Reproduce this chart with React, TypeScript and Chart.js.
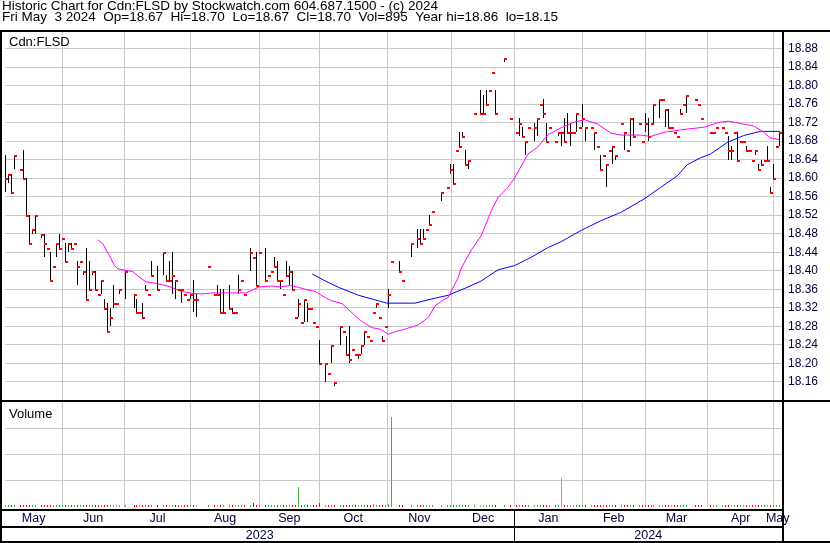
import React, { useEffect, useRef } from 'react';
import { Chart, registerables } from 'chart.js';

Chart.register(...registerables);

const FONT = '"Liberation Sans", Arial, sans-serif';

const titleLine1 = 'Historic Chart for Cdn:FLSD by Stockwatch.com 604.687.1500 - (c) 2024';
const titleLine2 = 'Fri May  3 2024  Op=18.67  Hi=18.70  Lo=18.67  Cl=18.70  Vol=895  Year hi=18.86  lo=18.15';
const symbolLabel = 'Cdn:FLSD';
const volumeLabel = 'Volume';

const monthLabels = ['May', 'Jun', 'Jul', 'Aug', 'Sep', 'Oct', 'Nov', 'Dec', 'Jan', 'Feb', 'Mar', 'Apr', 'May'];
// bar position (in trading-day units) where each new month begins
const monthStarts = [19, 39.67, 62, 85, 105, 127.67, 149.33, 170.33, 193, 214, 235, 257];
const yearLabels = ['2023', '2024'];
const yearBreakMonth = 7;

const priceTicks = [18.16, 18.2, 18.24, 18.28, 18.32, 18.36, 18.4, 18.44, 18.48, 18.52, 18.56, 18.6, 18.64, 18.68, 18.72, 18.76, 18.8, 18.84, 18.88];
const volumeTicks = [300, 600, 900];

const closes = [
  18.60, 18.61, 18.57, 18.65, null, 18.62, 18.60, 18.52, 18.46, 18.49,
  18.52, null, 18.48, 18.46, 18.45, 18.38, 18.41, 18.46, 18.45, 18.47,
  18.42, 18.46, 18.45, 18.46, 18.41, 18.42, 18.40, 18.34, 18.36, 18.40,
  18.36, 18.35, 18.38, 18.32, 18.27, 18.30, 18.33, 18.33, 18.36, null,
  18.40, null, null, 18.35, 18.31, 18.31, 18.30, 18.36, 18.35, 18.39,
  null, 18.36, null, 18.44, 18.38, 18.38, 18.39, 18.38, 18.36, 18.36,
  18.35, 18.34, 18.35, 18.34, 18.34, null, null, null, 18.41, null,
  18.35, 18.35, 18.31, 18.31, null, 18.32, 18.31, 18.31, 18.36, 18.38,
  18.35, null, 18.44, 18.43, 18.37, 18.44, null, 18.38, 18.39, 18.40,
  18.41, 18.38, 18.38, 18.35, 18.39, 18.40, 18.36, 18.30, 18.33, 18.29,
  18.34, 18.32, 18.32, 18.29, 18.28, 18.20, null, 18.20, 18.18, 18.24,
  18.16, null, 18.28, 18.27, 18.22, 18.21, 18.23, 18.22, 18.22, 18.24,
  18.27, 18.26, 18.25, 18.31, 18.33, 18.30, 18.25, 18.28, 18.35, 18.42,
  null, null, 18.40, 18.38, null, null, 18.46, null, 18.47, 18.46,
  18.47, 18.49, 18.50, 18.53, null, null, 18.57, null, 18.58, 18.62,
  18.59, 18.66, 18.67, 18.69, 18.63, 18.64, null, 18.74, null, 18.74,
  18.74, 18.76, 18.79, 18.83, 18.74, null, null, 18.86, null, 18.73,
  null, 18.70, 18.72, 18.69, 18.68, 18.71, null, 18.71, 18.73, 18.76,
  18.74, 18.68, 18.71, null, 18.68, 18.70, 18.70, 18.68, 18.70, 18.70,
  18.70, 18.74, 18.71, 18.73, 18.71, null, 18.71, 18.70, 18.67, 18.62,
  18.65, 18.63, 18.66, 18.67, 18.65, null, 18.72, 18.70, 18.66, 18.73,
  18.69, null, 18.72, 18.68, 18.72, 18.69, 18.72, 18.76, null, 18.77,
  18.77, 18.75, 18.71, 18.71, 18.70, 18.69, 18.74, 18.76, 18.78, null,
  null, 18.77, 18.76, 18.73, null, null, 18.70, 18.70, 18.71, null,
  18.71, 18.70, 18.66, 18.66, 18.70, 18.64, 18.68, 18.68, 18.66, 18.66,
  18.64, 18.66, 18.62, 18.63, 18.64, 18.64, 18.57, 18.60, 18.67, 18.70,
];

const highs = [
  18.65, 18.61, 18.61, 18.65, null, null, 18.66, 18.60, 18.52, 18.49,
  18.52, null, 18.48, 18.48, null, 18.44, null, 18.46, 18.48, null,
  18.46, 18.46, 18.46, null, 18.42, null, 18.40, 18.45, 18.42, 18.40,
  18.40, null, 18.38, 18.34, 18.33, 18.32, 18.37, null, 18.36, null,
  18.40, null, null, 18.35, 18.34, null, 18.33, 18.37, null, 18.42,
  null, 18.41, null, 18.44, 18.39, 18.42, 18.44, 18.38, null, 18.36,
  null, null, 18.35, 18.38, 18.35, null, null, null, null, null,
  null, 18.37, 18.36, 18.36, null, 18.37, 18.32, null, 18.39, null,
  null, null, 18.45, null, 18.44, null, null, 18.45, null, null,
  18.43, 18.42, 18.38, null, 18.42, 18.41, 18.40, null, 18.34, null,
  18.34, 18.33, null, null, null, 18.25, null, 18.20, null, 18.24,
  18.16, null, 18.28, null, 18.26, 18.28, null, null, 18.22, 18.24,
  18.27, null, null, null, 18.33, null, 18.26, null, 18.36, null,
  null, null, 18.42, null, null, null, 18.46, null, 18.49, 18.49,
  18.49, null, 18.52, null, null, null, 18.57, null, null, 18.63,
  18.63, null, 18.70, 18.70, 18.66, 18.64, null, null, null, 18.79,
  18.78, 18.79, null, null, 18.79, null, null, 18.86, null, null,
  null, null, 18.73, 18.71, 18.68, null, null, 18.72, 18.73, null,
  18.77, 18.72, null, null, null, 18.70, 18.70, 18.73, 18.74, 18.72,
  null, 18.74, null, 18.76, 18.71, null, null, 18.70, null, 18.65,
  null, 18.63, null, 18.67, 18.65, null, null, 18.70, null, 18.73,
  18.73, null, null, null, 18.74, 18.73, null, 18.76, null, 18.77,
  null, 18.75, 18.75, null, null, null, 18.75, null, 18.78, null,
  null, null, null, null, null, null, null, null, null, null,
  null, null, 18.69, 18.67, null, 18.70, null, null, 18.67, null,
  null, 18.66, 18.63, 18.64, null, 18.67, 18.58, 18.63, null, 18.70,
];

const lows = [
  18.57, 18.59, 18.57, 18.62, null, null, 18.60, 18.52, 18.46, 18.48,
  18.48, null, 18.47, 18.43, null, 18.38, null, 18.43, 18.45, null,
  18.42, 18.44, 18.45, null, 18.37, null, 18.39, 18.34, 18.36, 18.39,
  18.36, null, 18.35, 18.32, 18.27, 18.28, 18.32, null, 18.35, null,
  18.34, null, null, 18.32, 18.31, null, 18.30, 18.36, null, 18.39,
  null, 18.36, null, 18.39, 18.38, 18.38, 18.35, 18.34, null, 18.33,
  null, null, 18.34, 18.31, 18.30, null, null, null, null, null,
  null, 18.35, 18.31, 18.31, null, 18.32, 18.31, null, 18.35, null,
  null, null, 18.40, null, 18.37, null, null, 18.38, null, null,
  18.41, 18.38, 18.36, null, 18.39, 18.37, 18.36, null, 18.30, null,
  18.29, 18.29, null, null, null, 18.20, null, 18.16, null, 18.20,
  18.15, null, 18.24, null, 18.22, 18.20, null, null, 18.21, 18.22,
  18.24, null, null, null, 18.32, null, 18.25, null, 18.32, null,
  null, null, 18.40, null, null, null, 18.43, null, 18.45, 18.46,
  18.47, null, 18.50, null, null, null, 18.55, null, null, 18.61,
  18.59, null, 18.67, 18.69, 18.63, 18.62, null, null, null, 18.74,
  18.74, 18.76, null, null, 18.74, null, null, 18.85, null, null,
  null, null, 18.69, 18.69, 18.65, null, null, 18.68, 18.69, null,
  18.73, 18.68, null, null, null, 18.69, 18.67, 18.68, 18.70, 18.67,
  null, 18.70, null, 18.71, 18.68, null, null, 18.66, null, 18.62,
  null, 18.58, null, 18.63, 18.64, null, null, 18.66, null, 18.67,
  18.69, null, null, null, 18.70, 18.68, null, 18.72, null, 18.73,
  null, 18.71, 18.71, null, null, null, 18.74, null, 18.74, null,
  null, null, null, null, null, null, null, null, null, null,
  null, null, 18.64, 18.64, null, 18.64, null, null, 18.66, null,
  null, 18.65, 18.62, 18.63, null, 18.64, 18.57, 18.60, null, 18.67,
];

// daily volume, thousands of shares
const volumesK = [
  2, 2, 2, 2, 0, 2, 2, 2, 2, 2,
  2, 0, 2, 2, 2, 2, 2, 2, 2, 2,
  2, 2, 12, 2, 2, 2, 2, 2, 2, 2,
  2, 2, 2, 2, 2, 2, 2, 2, 2, 0,
  2, 0, 0, 2, 2, 2, 2, 2, 2, 2,
  0, 2, 0, 2, 2, 2, 2, 2, 2, 2,
  2, 2, 2, 2, 2, 0, 0, 0, 2, 0,
  2, 2, 2, 2, 0, 2, 2, 2, 2, 2,
  2, 0, 2, 40, 2, 2, 0, 2, 2, 2,
  2, 2, 2, 2, 2, 2, 2, 2, 228, 2,
  2, 2, 2, 2, 2, 45, 0, 2, 2, 2,
  2, 0, 2, 2, 20, 2, 2, 2, 2, 2,
  2, 2, 2, 35, 2, 15, 2, 2, 35, 1034,
  0, 0, 2, 2, 0, 0, 2, 0, 2, 2,
  2, 2, 2, 15, 0, 0, 2, 0, 2, 15,
  2, 2, 2, 20, 2, 2, 0, 2, 0, 25,
  2, 2, 2, 2, 2, 0, 0, 2, 0, 2,
  0, 2, 2, 2, 2, 2, 0, 2, 2, 2,
  2, 2, 2, 0, 2, 2, 326, 2, 2, 2,
  2, 2, 2, 2, 2, 0, 2, 2, 2, 2,
  2, 2, 2, 2, 2, 0, 2, 2, 2, 10,
  2, 0, 2, 15, 2, 2, 2, 2, 0, 2,
  2, 2, 2, 2, 2, 2, 2, 2, 2, 0,
  0, 2, 2, 20, 0, 0, 2, 2, 2, 0,
  2, 2, 2, 2, 2, 10, 2, 2, 2, 2,
  2, 2, 2, 2, 2, 2, 20, 2, 2, 0.9,
];

// moving averages: [bar position, price]
const shortAverage = [
  [30.9, 18.467], [32.6, 18.458], [34.8, 18.432], [36.5, 18.411], [37.6, 18.404], [42.6, 18.398],
  [44.8, 18.386], [47, 18.376], [50.3, 18.373], [54.8, 18.366], [57, 18.36], [59.2, 18.355],
  [62.6, 18.351], [65.9, 18.35], [69.2, 18.352], [73.7, 18.352], [80.3, 18.352], [82.6, 18.358],
  [84.8, 18.365], [88.7, 18.367], [91.5, 18.365], [95.3, 18.368], [98.1, 18.364], [100.9, 18.359],
  [103.7, 18.355], [107, 18.342], [109.2, 18.335], [112.6, 18.329], [115.3, 18.313], [118.7, 18.293],
  [122.6, 18.277], [125.3, 18.274], [128.1, 18.263], [130.3, 18.268], [133.7, 18.274], [138.1, 18.283],
  [141.5, 18.299], [143.7, 18.324], [147, 18.339], [148.1, 18.342], [151.5, 18.386], [152.6, 18.407],
  [155.9, 18.445], [159.2, 18.476], [162.6, 18.53], [164.8, 18.558], [168.1, 18.58], [170.3, 18.6],
  [174.8, 18.652], [178.1, 18.667], [181.5, 18.694], [186, 18.709], [190.3, 18.721], [193.7, 18.726],
  [198.1, 18.717], [202.6, 18.697], [205.9, 18.693], [212.6, 18.693], [215.9, 18.69], [220.3, 18.699],
  [228.1, 18.706], [233.7, 18.71], [239.2, 18.721], [242, 18.723], [245.9, 18.718], [250.3, 18.713],
  [253.7, 18.699], [255.9, 18.687], [259, 18.683],
];

const longAverage = [
  [102.6, 18.393], [107, 18.378], [111.5, 18.364], [118.1, 18.347], [122.6, 18.339], [127.6, 18.33],
  [137, 18.33], [142.6, 18.339], [148.1, 18.347], [154.8, 18.365], [159.2, 18.378], [164.8, 18.402],
  [170.3, 18.411], [175.9, 18.429], [181.5, 18.45], [186, 18.463], [192.6, 18.487], [199.2, 18.508],
  [205.9, 18.526], [213.7, 18.555], [219.2, 18.58], [224.8, 18.605], [228.1, 18.629], [232.6, 18.644],
  [235.9, 18.652], [241.5, 18.677], [247, 18.692], [252.6, 18.701], [259.2, 18.701],
];

function makeCloseTick() {
  const c = document.createElement('canvas');
  c.width = 5;
  c.height = 4;
  const g = c.getContext('2d');
  if (g) {
    g.fillStyle = '#ff0000';
    g.fillRect(2, 2, 3, 2);
  }
  return c;
}

const framePlugin = {
  id: 'stockwatchFrame',
  beforeDatasetsDraw(chart: any) {
    chart.ctx.imageSmoothingEnabled = false;
    // snap 1px bars to whole device pixels so they render crisp, as in the original
    chart.data.datasets.forEach((ds: any, di: number) => {
      if (ds.type !== 'bar') return;
      const meta = chart.getDatasetMeta(di);
      meta.data.forEach((el: any) => {
        el.x = Math.floor(el.x) + 0.5;
        el.y = Math.round(el.y);
        el.base = Math.round(el.base);
      });
    });
  },
  afterDraw(chart: any) {
    const ctx = chart.ctx as CanvasRenderingContext2D;
    const xs = chart.scales.x;
    const W = chart.width;
    const H = chart.height;
    ctx.save();
    ctx.fillStyle = '#000';
    ctx.fillRect(0, 30, W, 2);
    ctx.fillRect(0, 30, 2, H - 30);
    ctx.fillRect(782, 30, 2, H - 30);
    ctx.fillRect(0, 400, W, 2);
    ctx.fillRect(0, 509, 784, 2);
    ctx.fillRect(0, 526, 784, 2);
    ctx.fillRect(0, 541, W, 2);
    const yearX = Math.floor(xs.getPixelForValue(monthStarts[yearBreakMonth]));
    ctx.fillRect(yearX, 509, 1, 34);

    ctx.textAlign = 'left';
    ctx.textBaseline = 'alphabetic';
    ctx.font = `13.5px ${FONT}`;
    ctx.fillText(titleLine1, 2, 10);
    ctx.fillText(titleLine2, 2, 21);
    ctx.font = `13px ${FONT}`;
    ctx.fillText(symbolLabel, 9, 46);
    ctx.fillText(volumeLabel, 9, 418);

    ctx.fillStyle = '#00003c';
    ctx.textAlign = 'center';
    ctx.font = `12.5px ${FONT}`;
    const bounds = [xs.min, ...monthStarts, xs.max];
    monthLabels.forEach((m, k) => {
      const cx = (xs.getPixelForValue(bounds[k]) + xs.getPixelForValue(bounds[k + 1])) / 2;
      ctx.fillText(m, cx, 522);
    });
    const yb = [xs.min, monthStarts[yearBreakMonth], xs.max];
    yearLabels.forEach((y, k) => {
      const cx = (xs.getPixelForValue(yb[k]) + xs.getPixelForValue(yb[k + 1])) / 2;
      ctx.fillText(y, cx, 539);
    });
    ctx.restore();
  },
};

export default function App() {
  const ref = useRef<HTMLCanvasElement | null>(null);

  useEffect(() => {
    if (!ref.current) return;
    const idx = closes.map((_, i) => i);
    const rangeBars = idx
      .filter((i) => highs[i] != null && lows[i] != null)
      .map((i) => ({ x: i, y: [lows[i], highs[i]] }));
    const closePoints = idx.filter((i) => closes[i] != null).map((i) => ({ x: i, y: closes[i] }));
    const volIdx = idx.filter((i) => volumesK[i] > 0);
    const volBars = volIdx.map((i) => ({ x: i, y: volumesK[i] }));
    const volColors = volIdx.map((i) => {
      let p = i - 1;
      while (p >= 0 && closes[p] == null) p--;
      const prev = p >= 0 ? closes[p] : closes[i];
      const cur = closes[i] as number;
      if (prev == null || Math.abs(cur - (prev as number)) < 1e-9) return '#a0a0a0';
      return cur > (prev as number) ? '#3cb43c' : '#ff0000';
    });
    const tick = makeCloseTick();
    const tickFont = { family: FONT, size: 12 };

    const chart = new Chart(ref.current, {
      type: 'bar',
      data: {
        datasets: [
          {
            type: 'scatter',
            label: 'Close',
            data: closePoints,
            yAxisID: 'y',
            pointStyle: tick,
            pointRadius: 2,
            order: 0,
          } as any,
          {
            type: 'line',
            label: 'Short MA',
            data: shortAverage.map(([x, y]) => ({ x, y })),
            yAxisID: 'y',
            borderColor: '#ff00ff',
            borderWidth: 1,
            pointRadius: 0,
            fill: false,
            tension: 0,
            order: 1,
          },
          {
            type: 'line',
            label: 'Long MA',
            data: longAverage.map(([x, y]) => ({ x, y })),
            yAxisID: 'y',
            borderColor: '#0000ff',
            borderWidth: 1,
            pointRadius: 0,
            fill: false,
            tension: 0,
            order: 2,
          },
          {
            type: 'bar',
            label: 'Range',
            data: rangeBars as any,
            yAxisID: 'y',
            backgroundColor: '#000000',
            borderWidth: 0,
            barThickness: 1,
            grouped: false,
            inflateAmount: 0,
            order: 3,
          } as any,
          {
            type: 'bar',
            label: 'Volume',
            data: volBars as any,
            yAxisID: 'yv',
            backgroundColor: volColors,
            borderWidth: 0,
            barThickness: 1,
            grouped: false,
            inflateAmount: 0,
            minBarLength: 2,
            order: 4,
          } as any,
        ],
      },
      options: {
        responsive: false,
        devicePixelRatio: 1,
        animation: false,
        events: [],
        layout: { padding: { top: 30, left: 2, right: 0, bottom: 36 } },
        plugins: { legend: { display: false }, tooltip: { enabled: false }, title: { display: false } },
        scales: {
          x: {
            type: 'linear',
            offset: false,
            min: -1 / 6,
            max: 259 + 5 / 6,
            afterBuildTicks: (s: any) => {
              s.ticks = monthStarts.map((v) => ({ value: v }));
            },
            grid: { color: '#c8c8c8', lineWidth: 1, drawTicks: false, offset: false },
            border: { display: false },
            ticks: { display: false },
          },
          yv: {
            type: 'linear',
            position: 'right',
            weight: 0,
            min: 0,
            max: 5451,
            afterBuildTicks: (s: any) => {
              s.ticks = volumeTicks.map((v) => ({ value: v }));
            },
            afterFit: (s: any) => {
              s.width = 0;
            },
            grid: { color: '#c8c8c8', lineWidth: 1, drawTicks: false },
            border: { display: false },
            ticks: {
              padding: 6,
              color: '#00003c',
              font: tickFont,
              crossAlign: 'near',
              callback: (v: any) => `${v} k`,
            },
          },
          y: {
            type: 'linear',
            position: 'right',
            weight: 1,
            min: 17.88972,
            max: 18.91996,
            afterBuildTicks: (s: any) => {
              s.ticks = priceTicks.map((v) => ({ value: v }));
            },
            afterFit: (s: any) => {
              s.width = 48;
            },
            grid: { color: '#c8c8c8', lineWidth: 1, drawTicks: false },
            border: { display: false },
            ticks: {
              padding: 6,
              color: '#00003c',
              font: tickFont,
              crossAlign: 'near',
              callback: (v: any) => Number(v).toFixed(2),
            },
          },
        },
      } as any,
      plugins: [framePlugin as any],
    });
    return () => chart.destroy();
  }, []);

  return (
    <div style={{ position: 'absolute', left: 0, top: 0, width: 830, height: 543, background: '#ffffff' }}>
      <canvas ref={ref} width={830} height={543} style={{ display: 'block', width: 830, height: 543 }} />
    </div>
  );
}
